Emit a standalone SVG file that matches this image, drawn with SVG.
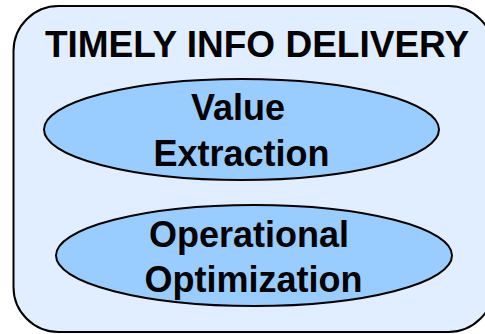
<svg xmlns="http://www.w3.org/2000/svg" width="485" height="334" viewBox="0 0 485 334">
<style>
.t{font-family:"Liberation Sans",Arial,sans-serif;font-weight:bold;fill:#000;text-anchor:middle}
.e{fill:#99CCFF;stroke:#000;stroke-width:2}
</style>
<rect width="485" height="334" fill="#fff"/>
<g id="container">
<rect x="13.5" y="6" width="480" height="326" rx="45" ry="45" fill="#E1EEFF" stroke="#000" stroke-width="2"/>
<text class="t" x="257" y="57" font-size="37">TIMELY INFO DELIVERY</text>
</g>
<g id="value-extraction">
<ellipse class="e" cx="241.5" cy="129.5" rx="197.5" ry="50.5"/>
<text class="t" x="238" y="120" font-size="36">Value</text>
<text class="t" x="241.5" y="166" font-size="36">Extraction</text>
</g>
<g id="operational-optimization">
<ellipse class="e" cx="254" cy="255.5" rx="198" ry="50.5"/>
<text class="t" x="249" y="247" font-size="36">Operational</text>
<text class="t" x="253.5" y="292" font-size="36">Optimization</text>
</g>
<g id="connectors"/>
</svg>
